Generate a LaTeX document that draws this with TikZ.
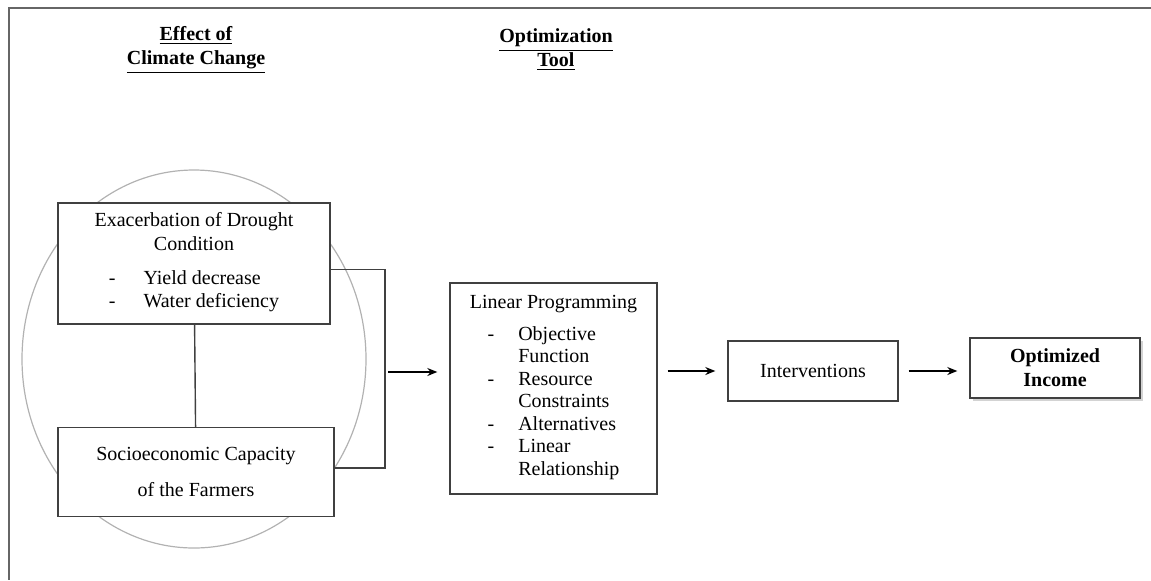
\documentclass[tikz,border=0pt]{standalone}
\usepackage{fontspec}
\setmainfont{Liberation Serif}
\usetikzlibrary{arrows.meta,shapes.geometric,shadows}
\begin{document}
\begin{tikzpicture}[x=0.5pt,y=-0.5pt, >={Stealth[length=5pt,width=4pt]},
      box/.style={draw=black!75,line width=0.7pt,fill=white,align=center,inner sep=2pt},
      head/.style={align=center,font=\bfseries},
      flow/.style={->,line width=0.6pt,shorten >=6pt,shorten <=5pt},
      link/.style={draw=black!75,line width=0.7pt} ]
      \useasboundingbox (0,0) rectangle (1151,580);
      \renewcommand{\arraystretch}{0.94}

      % frame
      \draw[gray!80!black,line width=1pt] (1151,8) -- (9,8) -- (9,580);

      % headers
      \node[head] (effect) at (196,50) {\underline{Effect of}\\\underline{Climate Change}};
      \node[head] (tool) at (556,50) {\underline{Optimization}\\\underline{Tool}};

      % ring round the two effects
      \node[ellipse,draw=gray!60,line width=0.6pt,minimum width=172pt,minimum height=189pt] (ring) at (194,359) {};

      % boxes
      \node[box,minimum width=136pt,minimum height=60.5pt] (drought) at (194,263.5)
        {Exacerbation of Drought\\Condition\\[8pt]
         \begin{tabular}{@{}l@{\hspace{14pt}}l@{}}
         - & Yield decrease\\
         - & Water deficiency
         \end{tabular}};
      \node[box,minimum width=138pt,minimum height=44.5pt] (socio) at (196,472)
        {Socioeconomic Capacity\\[6pt]of the Farmers};
      \node[box,minimum width=103.5pt,minimum height=105.5pt] (lp) at (553.5,388.5)
        {Linear Programming\\[5pt]
         \begin{tabular}{@{}l@{\hspace{12pt}}l@{}}
         - & Objective\\
           & Function\\
         - & Resource\\
           & Constraints\\
         - & Alternatives\\
         - & Linear\\
           & Relationship
         \end{tabular}};
      \node[box,minimum width=85pt,minimum height=30pt] (int) at (813,371) {Interventions};
      \node[box,font=\bfseries,minimum width=85pt,minimum height=30pt,
        drop shadow={opacity=0.35,shadow xshift=1.5pt,shadow yshift=-1.5pt}] (opt) at (1055,368)
        {Optimized\\Income};

      % connectors
      \coordinate (join) at (385,372);
      \draw[link] (drought) -- (socio);
      \draw[link] ([yshift=-3pt]drought.east) -| (join) |- ([yshift=2pt]socio.east);
      \draw[flow,shorten <=1.5pt] (join) -- (join -| lp.west);
      \draw[flow] (lp.east |- int.west) -- (int.west);
      \draw[flow] (int.east) -- (int.east -| opt.west);
    \end{tikzpicture}
\end{document}
